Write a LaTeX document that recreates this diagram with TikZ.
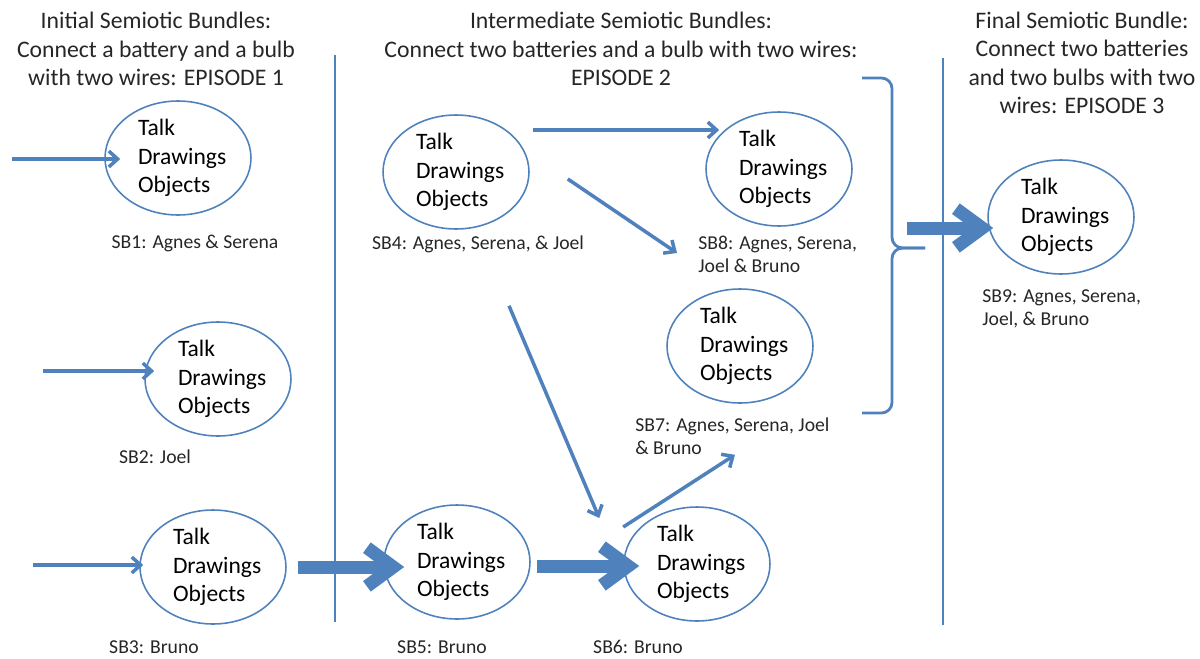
\documentclass[tikz,border=0pt]{standalone}
\usepackage{fontspec}
\setmainfont{Carlito}
\usetikzlibrary{shapes.geometric,arrows.meta}
\definecolor{bundleblue}{RGB}{79,129,189}

\begin{document}
\begin{tikzpicture}[x=0.02cm,y=-0.02cm,
  bundle/.style={draw=bundleblue, line width=0.9pt, ellipse, minimum width=2.92cm,
    minimum height=2.28cm, inner sep=0pt, align=left, text width=2cm,
    execute at begin node={\leftskip=0.2cm\relax}, font=\fontsize{13.4}{16.2}\selectfont},
  sblabel/.style={align=left, text=black!85, inner sep=0pt, font=\fontsize{11.2}{13}\selectfont},
  heading/.style={align=center, text=black!85, font=\fontsize{13.5}{16.2}\selectfont},
  thinarrow/.style={draw=bundleblue, line width=2pt, -{Straight Barb[length=5pt,width=9pt]}},
  fatarrow/.style={draw=bundleblue, line width=7.4pt, -{Straight Barb[length=15pt,width=22pt]}},
  divider/.style={draw=bundleblue, line width=1.6pt}]

  \useasboundingbox (0,0) rectangle (1200,659);

  % Ueberschriften
  \node[heading] (head1) at (156,49) {Initial Semiotic Bundles:\\Connect a battery and a bulb\\with two wires: EPISODE 1};
  \node[heading] (head2) at (621,49) {Intermediate Semiotic Bundles:\\Connect two batteries and a bulb with two wires:\\EPISODE 2};
  \node[heading] (head3) at (1082,63) {Final Semiotic Bundle:\\Connect two batteries\\and two bulbs with two\\wires: EPISODE 3};

  % Trennlinien
  \coordinate (d1top) at (335,55);
  \coordinate (d1bot) at (335,622);
  \coordinate (d2top) at (943,58);
  \coordinate (d2bot) at (943,625);
  \draw[divider] (d1top) -- (d1bot);
  \draw[divider] (d2top) -- (d2bot);

  % Episode 1
  \node[bundle] (sb1) at (178,158) {Talk\\Drawings\\Objects};
  \node[bundle] (sb2) at (218,379) {Talk\\Drawings\\Objects};
  \node[bundle] (sb3) at (213,567) {Talk\\Drawings\\Objects};
  \node[sblabel] (lab1) at (195,243) {SB1: Agnes \& Serena};
  \node[sblabel] (lab2) at (155,457) {SB2: Joel};
  \node[sblabel] (lab3) at (154,647) {SB3: Bruno};

  % Episode 2
  \node[bundle] (sb4) at (456,172) {Talk\\Drawings\\Objects};
  \node[bundle] (sb5) at (457,562) {Talk\\Drawings\\Objects};
  \node[bundle] (sb6) at (697,564) {Talk\\Drawings\\Objects};
  \node[bundle] (sb7) at (740,346) {Talk\\Drawings\\Objects};
  \node[bundle] (sb8) at (779,169) {Talk\\Drawings\\Objects};
  \node[sblabel] (lab4) at (478,244) {SB4: Agnes, Serena, \& Joel};
  \node[sblabel] (lab5) at (442,647) {SB5: Bruno};
  \node[sblabel] (lab6) at (638,647) {SB6: Bruno};
  \node[sblabel, anchor=west] (lab7) at (635,436) {SB7: Agnes, Serena, Joel\\\& Bruno};
  \node[sblabel, anchor=west] (lab8) at (698,254) {SB8: Agnes, Serena,\\Joel \& Bruno};

  % Episode 3
  \node[bundle] (sb9) at (1061,217) {Talk\\Drawings\\Objects};
  \node[sblabel, anchor=west] (lab9) at (982,309) {SB9: Agnes, Serena,\\Joel, \& Bruno};

  % Klammer um SB7 und SB8
  \draw[divider, rounded corners=6pt] (862,78) -| (892,248) -- (925,248);
  \draw[divider, rounded corners=6pt] (925,248) -| (892,413) -- (862,413);

  % duenne Pfeile
  \coordinate (in1) at (12,159);
  \coordinate (in2) at (43,371);
  \coordinate (in3) at (33,565);
  \draw[thinarrow] (in1) -- ([shift={(16,1)}]sb1.west);
  \draw[thinarrow] (in2) -- ([shift={(10,-8)}]sb2.west);
  \draw[thinarrow] (in3) -- ([shift={(4,-2)}]sb3.west);
  \draw[thinarrow] ([shift={(3,-42)}]sb4.east) -- ([shift={(14,-39)}]sb8.west);
  \draw[thinarrow] ([shift={(38,7)}]sb4.east) -- ([shift={(-21,-1)}]lab8.west);
  \draw[thinarrow] ([shift={(53,76)}]sb4.south) -- ([shift={(-24,-46)}]sb6.west);
  \draw[thinarrow] ([shift={(0,-37)}]sb6.west) -- ([shift={(-5,51)}]sb7.south);

  % dicke Pfeile
  \coordinate (merge) at (907,228);
  \draw[fatarrow] ([shift={(11,0)}]sb3.east) -- ([shift={(21,5)}]sb5.west);
  \draw[fatarrow] ([shift={(6,4)}]sb5.east) -- ([shift={(16,2)}]sb6.west);
  \draw[fatarrow] (merge) -- ([shift={(6,11)}]sb9.west);
\end{tikzpicture}
\end{document}
